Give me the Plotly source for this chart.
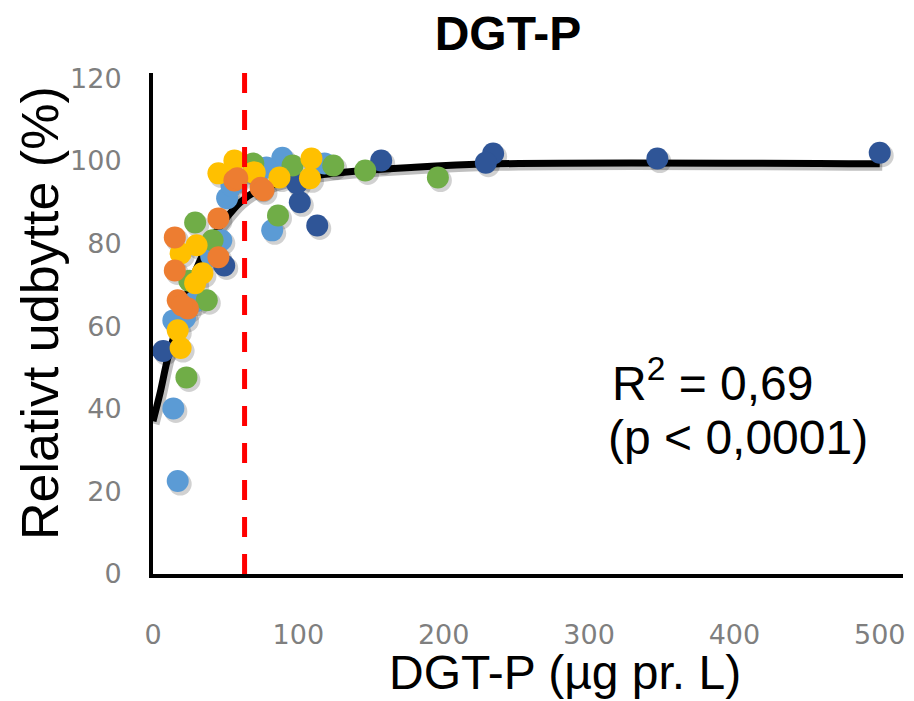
import plotly.graph_objects as go

# ---- data ----
dark_blue_x = [500, 347, 234, 229, 157, 101, 113, 99, 49, 7]
dark_blue_y = [102, 100.6, 101.8, 99.6, 100.1, 90, 84.4, 94.6, 74.7, 54]

light_blue_x = [17, 14, 14, 47, 51, 54, 89, 78, 82, 29, 118, 40, 22]
light_blue_y = [22.5, 40.1, 61.4, 80.8, 91, 94, 100.8, 98.4, 83.2, 66, 99.4, 77, 62]

green_x = [23, 37, 41, 29, 96, 124, 86, 69, 146, 196, 25]
green_y = [47.6, 66.3, 80.8, 85.1, 98.9, 98.9, 86.8, 99.4, 97.7, 96, 71]

yellow_x = [56, 45, 109, 108, 87, 69, 30, 19, 34, 29, 17, 19, 70]
yellow_y = [100.1, 97, 100.6, 95.8, 96, 97.2, 79.6, 77.6, 72.8, 70.4, 59, 54.7, 97.2]

orange_x = [15, 15, 45, 17, 24, 45, 56, 74, 76, 58, 20]
orange_y = [81.5, 73.5, 76.7, 66.3, 64.3, 86.1, 95.3, 93.5, 92.9, 95.8, 65]

fit_x = [0, 5, 10, 20, 30, 40, 50, 60, 70, 90, 124, 180, 235, 500]
fit_y = [37, 44, 52, 64, 74, 81, 86, 90, 92.5, 95, 97, 98.5, 99.3, 99.3]

threshold_x = 63

x_ticks = [0, 100, 200, 300, 400, 500]
y_ticks = [0, 20, 40, 60, 80, 100, 120]

# ---- layout geometry ----
W, H = 914, 701
ML, MR, MT, MB = 153, 11, 73, 127
XR = [0, 516]
YR = [0, 121.3]
PW, PH = W - ML - MR, H - MT - MB
px_x = PW / (XR[1] - XR[0])
px_y = PH / (YR[1] - YR[0])
sdx = 2.5 / px_x
sdy = -3.0 / px_y

series = [
    (dark_blue_x, dark_blue_y, "#2F5597"),
    (light_blue_x, light_blue_y, "#5B9BD5"),
    (green_x, green_y, "#70AD47"),
    (yellow_x, yellow_y, "#FFC000"),
    (orange_x, orange_y, "#ED7D31"),
]

fig = go.Figure()

fig.add_trace(go.Scatter(x=[v + sdx for v in fit_x], y=[v + sdy for v in fit_y],
                         mode="lines", line=dict(color="rgba(0,0,0,0.25)", width=8, shape="spline"),
                         hoverinfo="skip", showlegend=False))
fig.add_trace(go.Scatter(x=fit_x, y=fit_y, mode="lines",
                         line=dict(color="black", width=7, shape="spline"), showlegend=False))

for xs, ys, c in series:
    fig.add_trace(go.Scatter(x=[v + sdx for v in xs], y=[v + sdy for v in ys], mode="markers",
                             marker=dict(size=23, color="rgba(0,0,0,0.18)", line=dict(width=0)),
                             hoverinfo="skip", showlegend=False))
for xs, ys, c in series:
    fig.add_trace(go.Scatter(x=xs, y=ys, mode="markers",
                             marker=dict(size=22, color=c, line=dict(width=0)), showlegend=False))

fig.add_shape(type="line", xref="x", yref="paper", x0=threshold_x, x1=threshold_x, y0=0, y1=1,
              line=dict(color="#FF0000", width=5, dash="20px,17px"))

tickfont = dict(family="DejaVu Sans, sans-serif", size=27, color="#7F7F7F")
fig.update_layout(
    width=W, height=H,
    margin=dict(l=ML, r=MR, t=MT, b=MB, autoexpand=False),
    paper_bgcolor="white", plot_bgcolor="white",
    font=dict(family="Liberation Sans, Arial, sans-serif", color="black"),
    title=dict(text="<b>DGT-P</b>", x=508 / W, xanchor="center", y=1 - 33 / H, yanchor="middle",
               font=dict(size=48, color="black")),
    xaxis=dict(range=XR, tickvals=x_ticks, showgrid=False, zeroline=False, automargin=False,
               showline=True, linecolor="black", linewidth=4,
               ticks="", ticklabelstandoff=34, tickfont=tickfont),
    yaxis=dict(range=YR, tickvals=y_ticks, showgrid=False, zeroline=False, automargin=False,
               showline=True, linecolor="black", linewidth=4,
               ticks="", ticklabelstandoff=22, tickfont=tickfont),
)

big = dict(size=48, color="black", family="Liberation Sans, Arial, sans-serif")
fig.add_annotation(text="DGT-P (µg pr. L)", xref="paper", yref="paper",
                   x=(565 - ML) / PW, y=(H - MB - 672) / PH, xanchor="center", yanchor="middle",
                   showarrow=False, font=big)
fig.add_annotation(text="Relativt udbytte (%)", xref="paper", yref="paper", textangle=-90,
                   x=(40 - ML) / PW, y=(H - MB - 313) / PH, xanchor="center", yanchor="middle",
                   showarrow=False, font=dict(size=52, color="black", family="Liberation Sans, Arial, sans-serif"))
fig.add_annotation(text="R<sup>2</sup> = 0,69", xref="paper", yref="paper",
                   x=(610 - ML) / PW, y=(H - MB - 380) / PH,
                   xanchor="left", yanchor="middle", showarrow=False, font=big)
fig.add_annotation(text="(p < 0,0001)", xref="paper", yref="paper",
                   x=(606 - ML) / PW, y=(H - MB - 437) / PH,
                   xanchor="left", yanchor="middle", showarrow=False, font=big)

fig.write_html("out.html", config={"displayModeBar": False},
               post_script="document.body.style.margin='0';document.body.style.overflow='hidden';")
